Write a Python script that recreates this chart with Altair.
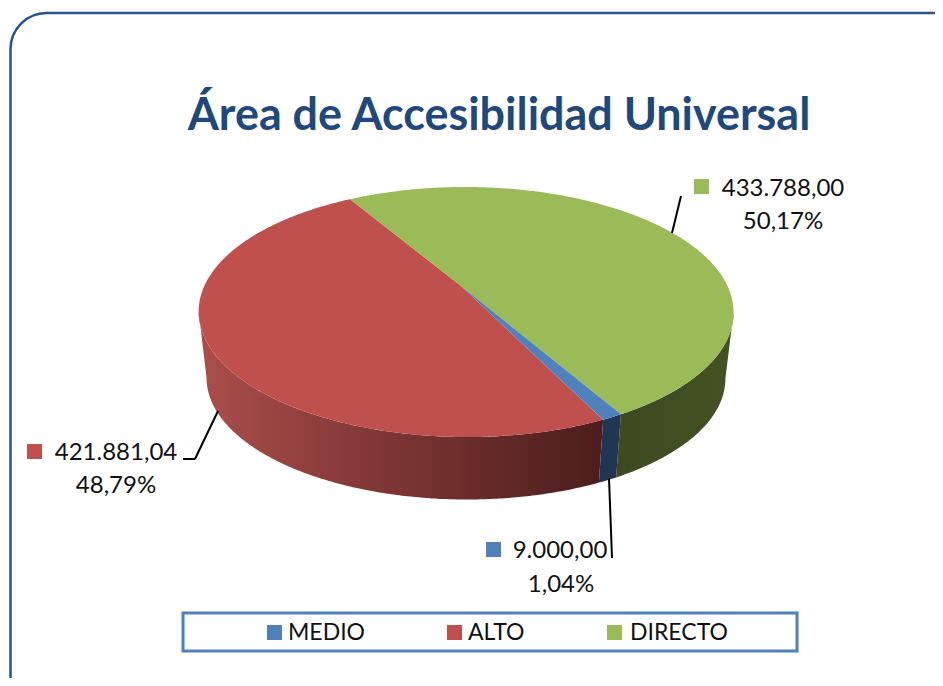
import math
import altair as alt
import pandas as pd

# ---- data ----
categories = ["MEDIO", "ALTO", "DIRECTO"]
values = [9000.00, 421881.04, 433788.00]
value_labels = ["9.000,00", "421.881,04", "433.788,00"]
percent_labels = ["1,04%", "48,79%", "50,17%"]
colors = ["#4F81BD", "#C0504D", "#9BBB59"]
title_text = "Área de Accesibilidad Universal"

FONT = "Lato"
total = sum(values)
sweep = {c: v / total * 360 for c, v in zip(categories, values)}

# perspective pie geometry (image pixels)
CX, CY, A, B, W, U = 461.0, 286.0, 261.5, 119.6, 0.208, 0.0187
S, DY = 0.97, 67.0
START = -30.3  # where DIRECTO starts, clockwise from the far side


def project(theta, bottom=False):
    t = math.radians(theta)
    X, Y = math.sin(t), -math.cos(t)
    D = 1 - W * Y - U * X
    if bottom:
        return CX + S * A * X / D, CY + DY + S * B * Y / D
    return CX + A * X / D, CY + B * Y / D


def arc(a, b, bottom=False):
    n = max(2, int(abs(b - a) * 2))
    return [project(a + (b - a) * i / n, bottom) for i in range(n + 1)]


def frame(points):
    return pd.DataFrame({"x": [p[0] for p in points], "y": [p[1] for p in points], "i": range(len(points))})


green_a, green_b = START, START + sweep["DIRECTO"]
blue_a, blue_b = green_b, green_b + sweep["MEDIO"]
red_a, red_b = blue_b, blue_b + sweep["ALTO"]
apex = [(CX, CY)]
tops = {
    "DIRECTO": apex + arc(green_a, green_b),
    "MEDIO": apex + arc(blue_a, blue_b),
    "ALTO": apex + arc(red_a, red_b),
}
LEFT_EDGE, RIGHT_EDGE = 258.0, 102.0
walls = {
    "DIRECTO": arc(RIGHT_EDGE, green_b) + arc(green_b, RIGHT_EDGE, True),
    "MEDIO": arc(blue_a, blue_b) + arc(blue_b, blue_a, True),
    "ALTO": arc(red_a, LEFT_EDGE) + arc(LEFT_EDGE, red_a, True),
}

PAGE_W, PAGE_H = 935, 678  # image column / row at the far edges of the plot area
xs = alt.Scale(domain=[8, PAGE_W], nice=False, zero=False)
ys = alt.Scale(domain=[PAGE_H, 8], nice=False, zero=False)


def poly(points, fill):
    return (
        alt.Chart(frame(points))
        .mark_line(fill=fill, stroke="transparent", strokeWidth=0, interpolate="linear")
        .encode(
            x=alt.X("x:Q", scale=xs, axis=None),
            y=alt.Y("y:Q", scale=ys, axis=None),
            order=alt.Order("i:Q"),
        )
    )


def grad(stops):
    return alt.Gradient(
        gradient="linear", x1=0, x2=1, y1=0, y2=0,
        stops=[alt.GradientStop(offset=o, color=c) for o, c in stops],
    )


def px(v):
    return alt.value(v - 8)


def text(s, x, y, size=24, align="center", color="#111111", weight="normal"):
    return alt.Chart(pd.DataFrame({"t": [s]})).mark_text(
        text=s, font=FONT, fontSize=size, align=align, baseline="alphabetic",
        color=color, fontWeight=weight,
    ).encode(x=px(x), y=px(y))


def rule(x1, y1, x2, y2, color="#000000", w=2):
    return alt.Chart(pd.DataFrame({"a": [0]})).mark_rule(color=color, strokeWidth=w).encode(
        x=px(x1), x2=px(x2), y=px(y1), y2=px(y2)
    )


def box(x1, y1, x2, y2, fill="transparent", stroke="transparent", w=0, r=0):
    return alt.Chart(pd.DataFrame({"a": [0]})).mark_rect(
        fill=fill, stroke=stroke, strokeWidth=w, cornerRadius=r
    ).encode(x=px(x1), x2=px(x2), y=px(y1), y2=px(y2))


layers = [
    box(10.5, 13, 975, 720, stroke="#24548F", w=2.5, r=36),
    text(title_text, 499, 130, size=44.9, color="#1F497D", weight="bold"),
    poly(walls["ALTO"], grad([(0, "#AB4E4B"), (0.5, "#7A3432"), (1, "#4B1D1C")])),
    poly(walls["DIRECTO"], grad([(0, "#3D4A20"), (1, "#445124")])),
    poly(walls["MEDIO"], "#1F3552"),
    poly(tops["ALTO"], colors[1]),
    poly(tops["DIRECTO"], colors[2]),
    poly(tops["MEDIO"], colors[0]),
    # leaders
    rule(681, 196, 672, 233),
    rule(183, 459, 195, 459),
    rule(195, 459, 218, 411),
    rule(609, 478, 612, 558),
    # data labels
    box(694, 179, 709, 194, fill=colors[2]),
    text(value_labels[2], 783, 196),
    text(percent_labels[2], 783, 229),
    box(27, 444, 42, 459, fill=colors[1]),
    text(value_labels[1], 116, 460),
    text(percent_labels[1], 116, 493),
    box(486, 542, 501, 557, fill=colors[0]),
    text(value_labels[0], 560, 558),
    text(percent_labels[0], 561, 592),
    # legend
    box(183, 613, 797, 651, fill="#FFFFFF", stroke="#4F81BD", w=3),
    box(267, 625, 282, 640, fill=colors[0]),
    text(categories[0], 288, 640, size=23, align="left"),
    box(447, 625, 462, 640, fill=colors[1]),
    text(categories[1], 468, 640, size=23, align="left"),
    box(607, 625, 622, 640, fill=colors[2]),
    text(categories[2], 630, 640, size=23, align="left"),
]

chart = alt.layer(*layers).properties(
    width=PAGE_W - 8, height=PAGE_H - 8, padding=0,
    autosize=alt.AutoSizeParams(type="none"),
    background="#FFFFFF",
).configure_view(stroke=None)

chart.save("out.html", embed_options={"renderer": "svg", "actions": False})
